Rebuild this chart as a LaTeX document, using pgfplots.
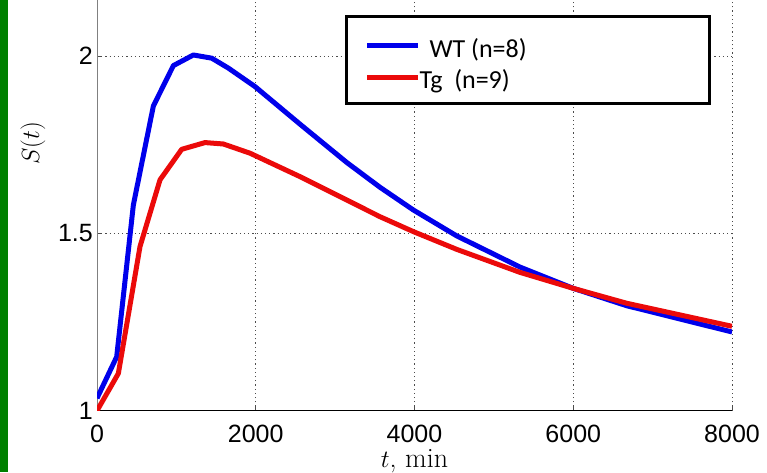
\documentclass[border=0pt]{standalone}
\usepackage{fontspec}
\usepackage{pgfplots}
\pgfplotsset{compat=1.18}
\newfontfamily\arialfont{Liberation Sans}
\newfontfamily\calfont{Carlito}
\definecolor{cblue}{RGB}{0,0,235}
\definecolor{cred}{RGB}{235,10,10}
\definecolor{barg}{RGB}{0,128,0}
\begin{document}
\begin{tikzpicture}
\begin{axis}[
  at={(97pt,61.3pt)}, anchor=south west,
  scale only axis, width=635pt, height=410.7pt,
  xmin=0, xmax=8000, ymin=1, ymax=2.158,
  axis lines=left, axis line style={-, line width=1pt},
  y axis line style={black!50},
  xtick={0,2000,4000,6000,8000}, ytick={1,1.5,2},
  yticklabels={1,1.5,2},
  tick align=inside, major tick length=5pt,
  tick style={line width=0.8pt, black!70},
  grid=major, grid style={black!70, line width=1pt, dash pattern=on 1.2pt off 3pt},
  /pgf/number format/1000 sep={},
  /pgf/number format/assume math mode=true,
  ticklabel style={font=\arialfont\fontsize{25}{30}\selectfont},
  xticklabel style={inner sep=0pt, anchor=north, yshift=-14pt},
  yticklabel style={inner sep=0pt, anchor=east, xshift=-4pt},
  xlabel={$t$, min},
  ylabel={$S(t)$},
  xlabel style={font=\fontsize{28}{32}\selectfont, at={(axis description cs:0.5,-0.1395)}, anchor=base},
  ylabel style={font=\fontsize{32}{36}\selectfont, at={(axis description cs:-0.1008,0.6518)}, anchor=center},
  legend style={at={(axis description cs:0.3898,0.9623)}, anchor=north west,
    draw=black, line width=3pt, fill=white,
    inner xsep=18.5pt, inner ysep=12pt, row sep=0.3pt,
    nodes={inner sep=0pt, text height=28.5pt, text depth=2.5pt},
    font=\calfont\fontsize{26}{30}\selectfont},
  legend cell align=left,
  legend image code/.code={\draw[#1, line cap=butt] (0pt,-1.5pt) -- (51pt,-1.5pt);},
]
\addplot[cblue, line width=5pt, line join=round] coordinates {
(0,1.035) (248,1.152) (458,1.58) (710,1.859) (962,1.973) (1214,2.003)
(1445,1.994) (1655,1.966) (1990,1.914) (2557,1.808) (3146,1.700)
(3565,1.630) (3985,1.566) (4531,1.493) (5329,1.405) (6000,1.345)
(6673,1.296) (8000,1.222)};
\addlegendentry{\hspace*{9pt}\makebox[261pt][l]{WT (n=8)}}
\addplot[cred, line width=5pt, line join=round] coordinates {
(0,1.0) (269,1.105) (542,1.463) (794,1.651) (1067,1.737) (1361,1.756)
(1592,1.752) (1928,1.726) (2557,1.66) (3103,1.599) (3565,1.547)
(3985,1.505) (4531,1.455) (5329,1.390) (6000,1.345) (6673,1.303)
(8000,1.238)};
\addlegendentry{\hspace*{-1pt}\makebox[271pt][l]{Tg\ \ (n=9)}}
\end{axis}
\fill[barg] (0,0) rectangle (8pt,472pt);
\pgfresetboundingbox
\path (0,0) rectangle (767pt,472pt);
\end{tikzpicture}
\end{document}
